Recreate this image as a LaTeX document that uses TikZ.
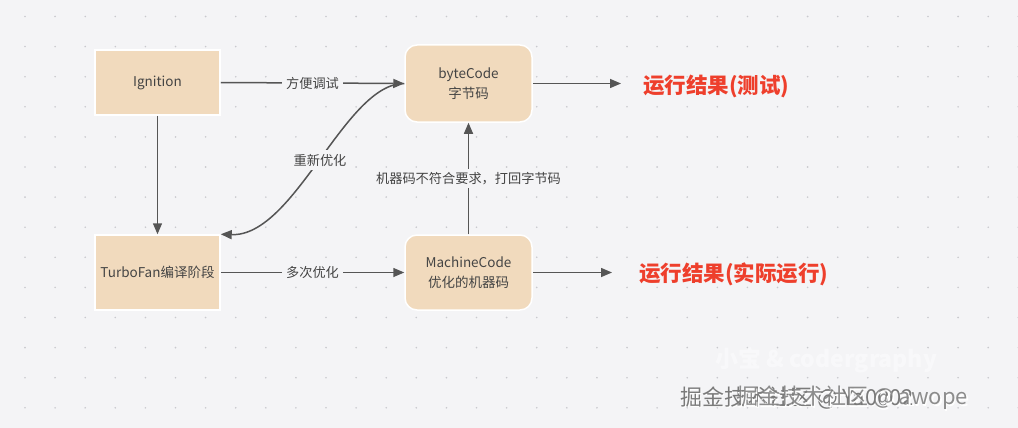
\documentclass[tikz,border=0pt]{standalone}
\usepackage{fontspec}
\setmainfont{Noto Sans CJK SC}
\usetikzlibrary{arrows.meta}
\definecolor{bgc}{HTML}{F4F4F6}
\definecolor{dotc}{HTML}{C9C9CE}
\definecolor{boxc}{HTML}{F1DABD}
\definecolor{linec}{HTML}{555555}
\definecolor{txtc}{HTML}{444444}
\definecolor{redc}{HTML}{EE3F2C}
\definecolor{wmc}{HTML}{7A7A7A}
\begin{document}
\begin{tikzpicture}[x=1pt,y=-1pt,
  boxsq/.style={draw=white,line width=1.5pt,fill=boxc,minimum width=125pt,minimum height=65pt,inner sep=2pt,text=txtc,font=\fontsize{13.5}{20}\selectfont,align=center,anchor=center},
  boxrd/.style={boxsq,rounded corners=12pt,minimum width=127pt},
  lbl/.style={fill=bgc,text=txtc,font=\fontsize{13.2}{16}\selectfont,inner sep=4pt},
  conn/.style={draw=linec,line width=1.5pt,-{Triangle[length=11pt,width=9pt]}},
  res/.style={text=redc,font=\fontsize{21.5}{25}\selectfont\bfseries,anchor=west,inner sep=0pt},
  wm/.style={font=\fontsize{22}{26}\selectfont,anchor=west,inner sep=0pt}]
\fill[bgc] (0,0) rectangle (1018,428);
\useasboundingbox (0,0) rectangle (1018,428);
\foreach \i in {0,...,33}{\foreach \j in {0,...,13}{
  \fill[dotc] (25+30.1*\i,16.5+30.1*\j) circle (0.9pt);}}
% faint watermark
\node[text=white,opacity=0.45,font=\fontsize{23}{26}\selectfont\bfseries] (wm0) at (826,360) {小宝 \& codergraphy};
% nodes
\node[boxsq] (ign) at (157.5,82.5) {Ignition};
\node[boxrd,minimum height=77pt] (byte) at (468.5,83.5) {byteCode\\字节码};
\node[boxsq,minimum height=75pt] (turbo) at (157.5,272.5) {TurboFan编译阶段};
\node[boxrd,minimum height=75pt] (mach) at (468.5,272.5) {MachineCode\\优化的机器码};
\coordinate (r1) at (621,83.5);
\coordinate (r2) at (612,272.5);
\node[res] (res1) at (643,86) {运行结果(测试)};
\node[res] (res2) at (639,274) {运行结果(实际运行)};
% connectors
\draw[conn] (ign.east) -- (byte.west) node[lbl,pos=0.5] (l1) {方便调试};
\draw[conn] (ign.south) -- (turbo.north);
\draw[conn] (byte.west) .. controls (345,83) and (295,237) .. (turbo.north east) ;
\node[lbl] (l2) at (320,160) {重新优化};
\draw[conn] (turbo.east) -- (mach.west) node[lbl,pos=0.5] (l3) {多次优化};
\draw[conn] (mach.north) -- (byte.south) node[lbl,pos=0.5,inner sep=3pt] (l4) {机器码不符合要求，打回字节码};
\draw[conn] (byte.east) -- (r1);
\draw[conn] (mach.east) -- (r2);
% watermark (two overlapping copies, as in the reference)
\node[wm,text=white] (wm1s) at (681.5,399.5) {掘金技术社区 @ Ya0002};
\node[wm,text=wmc] (wm1) at (680,398) {掘金技术社区 @ Ya0002};
\node[wm,text=white] (wm2s) at (737.5,399.5) {掘金技术社区 @ awope};
\node[wm,text=wmc,opacity=0.85] (wm2) at (736,398) {掘金技术社区 @ awope};
\end{tikzpicture}
\end{document}
